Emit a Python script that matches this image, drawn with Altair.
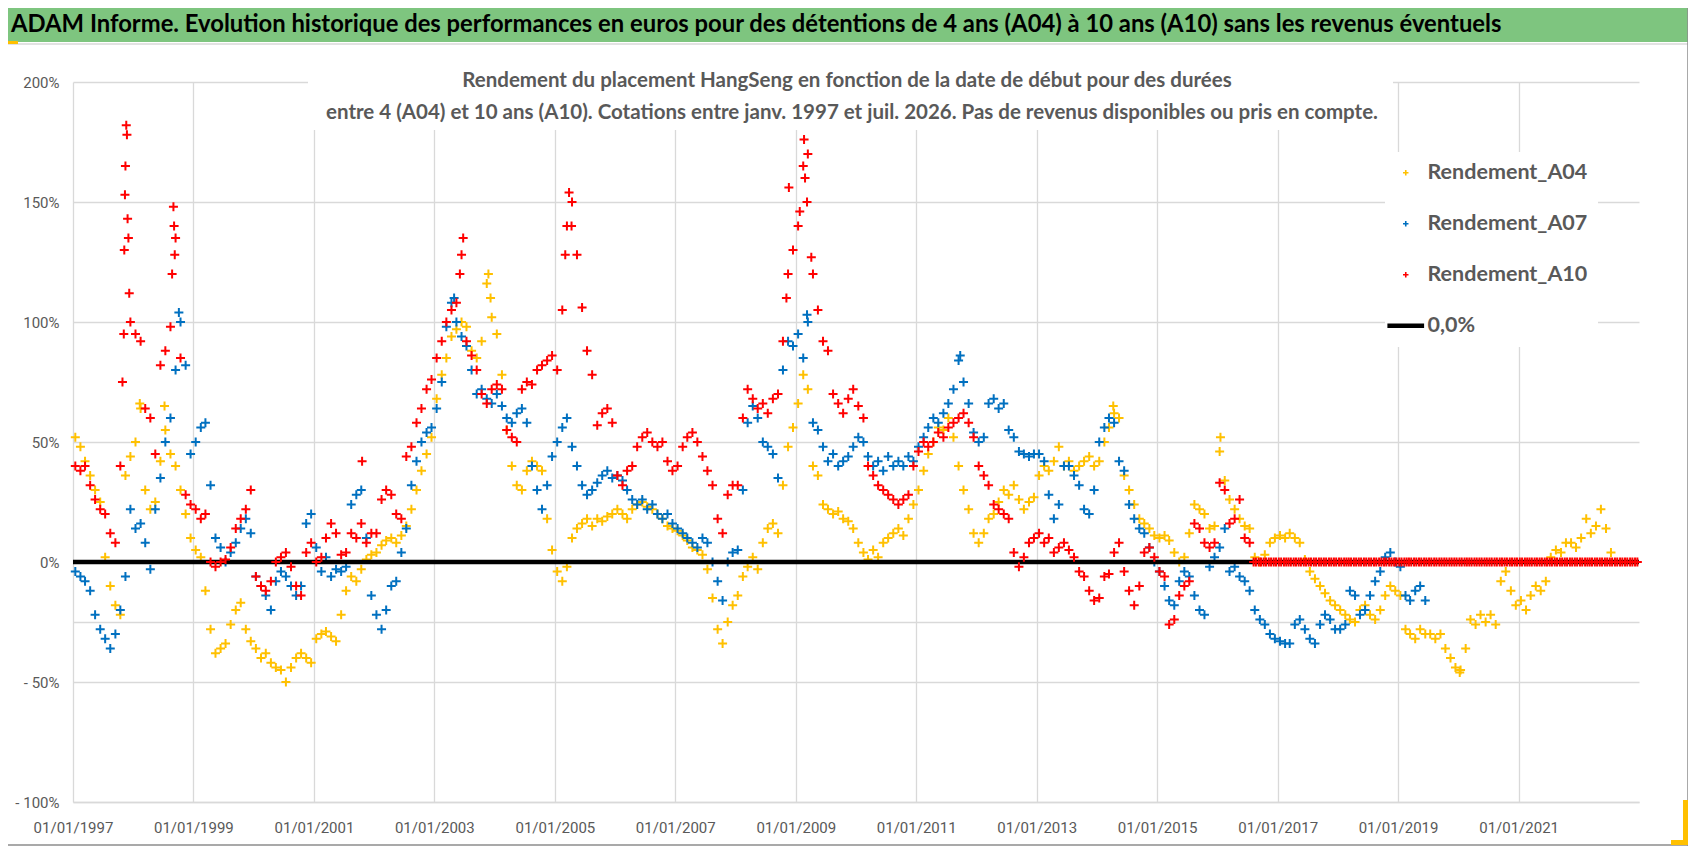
import altair as alt
import pandas as pd

TITLE = ("ADAM Informe. Evolution historique des performances en euros pour des détentions "
         "de 4 ans (A04) à 10 ans (A10) sans les revenus éventuels")
SUBTITLE = [
    "Rendement du placement HangSeng en fonction de la date de début pour des durées",
    "entre 4 (A04) et 10 ans (A10).  Cotations entre janv. 1997 et juil. 2026. "
    "Pas de revenus disponibles ou pris en compte.",
]
SERIES = ["Rendement_A04", "Rendement_A07", "Rendement_A10", "0,0%"]
COLORS = ["#FFC000", "#0070C0", "#FF0000", "#000000"]
X_TICK_YEARS = [1997, 1999, 2001, 2003, 2005, 2007, 2009, 2011, 2013, 2015, 2017, 2019, 2021]
Y_TICKS = [-100, -50, -25, 0, 50, 100, 150, 200]

# monthly readings (%), first value = January 1997
A04 = [
    52, 48, 42, 36, 30, 25, 2, -10, -18, -22, 36, 44,            # 1997
    50, 64, 30, 22, 25, 42, 55, 45, 40, 30, 20, 10,              # 1998
    5, 2, -12, -28, -38, -36, -34, -26, -20, -17, -28, -33,      # 1999
    -36, -40, -38, -42, -44, -45, -50, -44, -40, -38, -40, -42,  # 2000
    -32, -30, -29, -31, -33, -22, -12, -6, -8, -3, 1, 3,         # 2001
    4, 7, 9, 10, 8, 11, 15, 22, 30, 38, 45, 52,                  # 2002
    68, 78, 85, 94, 97, 100, 98, 88, 85, 92, 116, 102,           # 2003
    95, 78, 55, 40, 32, 30, 38, 42, 40, 38, 18, 5,               # 2004
    -4, -8, -2, 10, 14, 16, 18, 15, 18, 17, 19, 20,              # 2005
    22, 20, 18, 22, 24, 25, 23, 22, 20, 18, 15, 14,              # 2006
    13, 11, 9, 6, 5, 3, -3, -15, -28, -34, -25, -18,             # 2007
    -14, -6, -2, 2, -3, 8, 14, 16, 12, 32, 48, 56,               # 2008
    66, 78, 72, 40, 36, 24, 22, 20, 21, 18, 17, 14,              # 2009
    8, 4, 1, 5, 2, 8, 10, 12, 14, 11, 18, 24,                    # 2010
    30, 38, 45, 50, 56, 55, 60, 52, 40, 30, 22, 12,              # 2011
    8, 12, 18, 20, 25, 30, 28, 32, 26, 22, 25, 27,               # 2012
    36, 40, 38, 42, 48, 40, 42, 38, 40, 42, 44, 40,              # 2013
    42, 50, 56, 62, 60, 36, 30, 24, 18, 16, 14, 11,              # 2014
    10, 11, 9, 4, 0, 2, 12, 24, 22, 20, 14, 15,                  # 2015
    46, 34, 26, 22, 18, 15, 14, 2, 0, 3, 8, 10,                  # 2016
    11, 10, 12, 10, 8, 1, -4, -7, -10, -13, -16, -18,            # 2017
    -20, -22, -24, -25, -20, -18, -22, -24, -20, -14, -10, -12,  # 2018
    -14, -28, -30, -32, -28, -30, -30, -32, -30, -36, -40, -44,  # 2019
    -45, -36, -24, -26, -22, -25, -22, -26, -8, -4, -12, -18,    # 2020
    -16, -20, -14, -10, -12, -8, 2, 5, 4, 8, 8, 6,               # 2021
    10, 18, 12, 15, 22, 14, 4,                                   # 2022
]
A07 = [
    -4, -6, -8, -12, -22, -28, -32, -36, -30, -20, -6, 22,       # 1997
    14, 16, 8, -3, 22, 35, 50, 60, 80, 100, 82, 45,              # 1998
    50, 56, 58, 32, 10, 6, 0, 4, 8, 14, 18, 12,                  # 1999
    -6, -10, -14, -20, -8, -4, -6, -10, -14, -10, 16, 20,        # 2000
    6, -4, 2, -6, -3, -4, -2, 24, 28, 30, 10, -14,               # 2001
    -22, -28, -20, -10, -8, 4, 14, 32, 42, 50, 54, 56,           # 2002
    64, 75, 98, 108, 100, 94, 90, 80, 70, 72, 68, 66,            # 2003
    70, 65, 60, 58, 62, 64, 58, 40, 30, 22, 32, 44,              # 2004
    50, 56, 60, 48, 40, 32, 28, 30, 33, 36, 38, 35,              # 2005
    36, 34, 30, 26, 24, 26, 22, 24, 20, 18, 20, 16,              # 2006
    14, 12, 10, 8, 6, 10, 8, 0, -8, -16, 0, 4,                   # 2007
    5, 30, 58, 65, 60, 50, 48, 45, 35, 80, 92, 90,               # 2008
    95, 85, 100, 58, 55, 48, 42, 45, 40, 42, 44, 48,             # 2009
    52, 50, 44, 40, 42, 38, 44, 40, 42, 40, 44, 42,              # 2010
    48, 52, 56, 60, 58, 62, 66, 72, 84, 75, 66, 54,              # 2011
    50, 52, 66, 68, 64, 66, 55, 52, 46, 45, 44, 45,              # 2012
    45, 42, 28, 18, 24, 40, 40, 36, 32, 22, 20, 30,              # 2013
    50, 56, 60, 58, 42, 38, 24, 18, 14, 12, 6, 0,                # 2014
    -4, -10, -16, -18, -8, -4, -6, -14, -20, -22, -2, 2,         # 2015
    6, 14, -4, -2, -6, -8, -12, -20, -24, -26, -30, -32,         # 2016
    -33, -34, -34, -26, -24, -28, -32, -34, -26, -22, -24, -28,  # 2017
    -28, -26, -12, -14, -22, -20, -14, -8, -4, 2, 4, 0,          # 2018
    -2, -14, -16, -12, -10, -16,                                 # 2019
]
A10 = [
    40, 38, 40, 32, 26, 22, 20, 12, 8, 40, 165, 100,             # 1997
    95, 92, 64, 60, 45, 82, 88, 98, 135, 85, 28, 24,             # 1998
    22, 18, 20, 0, -2, 0, 1, 6, 14, 18, 22, 30,                  # 1999
    -6, -10, -12, -8, 0, 2, 4, -2, -10, -14, 4, 8,               # 2000
    0, 2, 10, 16, 12, 3, 4, 12, 10, 16, 8, 12,                   # 2001
    12, 26, 30, 28, 20, 18, 44, 48, 58, 64, 72, 76,              # 2002
    85, 92, 100, 105, 108, 128, 92, 86, 80, 70, 66, 72,          # 2003
    74, 72, 55, 52, 50, 72, 75, 74, 80, 82, 84, 86,              # 2004
    80, 105, 140, 150, 128, 106, 88, 78, 57, 62, 64, 58,         # 2005
    36, 32, 38, 40, 48, 52, 54, 50, 48, 50, 42, 38,              # 2006
    40, 48, 52, 54, 50, 44, 38, 32, 18, 12, 28, 32,              # 2007
    32, 60, 72, 68, 64, 66, 62, 68, 70, 92, 120, 130,            # 2008
    140, 165, 170, 120, 105, 92, 88, 70, 66, 62, 68, 72,         # 2009
    65, 60, 40, 36, 32, 30, 28, 26, 24, 26, 28, 40,              # 2010
    46, 50, 48, 50, 54, 52, 56, 58, 60, 62, 58, 52,              # 2011
    40, 36, 32, 24, 22, 20, 18, 4, -2, 2, 8, 10,                 # 2012
    12, 8, 10, 4, 6, 8, 5, 2, -4, -6, -12, -16,                  # 2013
    -15, -6, -5, 4, 8, -4, -12, -18, -10, 4, 6, 2,               # 2014
    -4, -6, -26, -24, -14, -10, -8, 16, 14, 8, 6, 8,             # 2015
    33, 30, 16, 18, 26, 10, 8,                                   # 2016
]
# from August 2016 the 10-year return has no data yet and sits on 0 % (the red band),
# read twice a month so the band stays solid
A10_FLAT = [0] * 154

# isolated points standing out of the monthly cloud
A04_EXTRA_DATES = ["1998-02-10", "1998-07-10", "2003-11-25", "2003-12-08",
                   "2014-04-10", "2016-01-20", "2020-01-10"]
A04_EXTRA = [66, 65, 120, 110, 65, 52, -46]
A07_EXTRA_DATES = ["1998-10-05", "2003-05-01", "2009-03-10", "2011-09-25"]
A07_EXTRA = [104, 110, 103, 86]
A10_EXTRA_DATES = ["1997-10-28", "1997-11-05", "1997-11-08", "1997-11-12", "1997-11-20",
                   "1997-11-24", "1997-11-28", "1997-12-03", "1997-12-08", "1998-08-25",
                   "1998-09-02", "1998-09-06", "1998-09-10", "2001-10-20", "2003-06-05",
                   "2003-06-25", "2005-03-05", "2005-03-28", "2005-04-12", "2008-11-05",
                   "2008-11-20", "2009-01-25", "2009-02-20", "2009-02-26", "2009-03-10",
                   "2009-04-05"]
A10_EXTRA = [75, 95, 130, 153, 182, 178, 143, 135, 112, 120, 148, 140, 128, 42, 120,
             135, 128, 154, 140, 110, 156, 146, 176, 160, 150, 127]

PLUS = "M-1,0L1,0M0,-1L0,1"
BAR = "M-6.7,-0.5L6.7,-0.5M-6.7,-0.17L6.7,-0.17M-6.7,0.17L6.7,0.17M-6.7,0.5L6.7,0.5"
GRID = "#D9D9D9"
GREY_TEXT = "#595959"


def series(values, first, serie, freq="MS", shift=14):
    when = pd.date_range(first, periods=len(values), freq=freq) + pd.Timedelta(days=shift)
    return pd.DataFrame({"date": when, "value": values, "serie": serie})


def extra(dates, values, serie):
    return pd.DataFrame({"date": pd.to_datetime(dates), "value": values, "serie": serie})


low = pd.concat([
    series(A04, "1997-01-01", SERIES[0]), extra(A04_EXTRA_DATES, A04_EXTRA, SERIES[0]),
    series(A07, "1997-01-01", SERIES[1]), extra(A07_EXTRA_DATES, A07_EXTRA, SERIES[1]),
])
high = pd.concat([
    series(A10, "1997-01-01", SERIES[2]), extra(A10_EXTRA_DATES, A10_EXTRA, SERIES[2]),
    series(A10_FLAT, "2016-08-01", SERIES[2], freq="SMS", shift=7),
])
one = pd.DataFrame({"n": [0]})

x_enc = alt.X(
    "date:T", title=None,
    scale=alt.Scale(domain=[alt.DateTime(year=1997, month=1, date=1),
                            alt.DateTime(year=2023, month=1, date=1)]),
    axis=alt.Axis(values=[alt.DateTime(year=y, month=1, date=1) for y in X_TICK_YEARS],
                  format="%d/%m/%Y", labelFlush=False, ticks=False, labelPadding=18,
                  domainColor=GRID, domainWidth=1.5),
)
y_enc = alt.Y(
    "value:Q", title=None,
    scale=alt.Scale(domain=[-100, 200], nice=False),
    axis=alt.Axis(values=Y_TICKS, ticks=False, domain=False, labelPadding=14,
                  labelExpr="datum.value == -25 ? '' : (datum.value < 0 ? '- ' + "
                            "abs(datum.value) + '%' : datum.value + '%')"),
)
legend = alt.Legend(title=None, orient="none", legendX=1312, legendY=70, direction="vertical",
                    labelFont="Lato", labelFontSize=21.5, labelFontWeight="bold",
                    labelColor=GREY_TEXT, labelOffset=11, symbolSize=30, symbolStrokeWidth=1.6,
                    symbolOpacity=1, rowPadding=28, padding=10, fillColor="white", zindex=1)
color_enc = alt.Color("serie:N", scale=alt.Scale(domain=SERIES, range=COLORS), legend=legend)
shape_enc = alt.Shape("serie:N", scale=alt.Scale(domain=SERIES, range=[PLUS, PLUS, PLUS, BAR]),
                      legend=legend)

title_box = alt.Chart(one).mark_rect(color="white").encode(
    x=alt.value(235), x2=alt.value(1320), y=alt.value(-18), y2=alt.value(48))
green_bar = alt.Chart(one).mark_rect(color="#7EC57F").encode(
    x=alt.value(-65), x2=alt.value(1616), y=alt.value(-74), y2=alt.value(-40))
bar_line = alt.Chart(one).mark_rule(color=GRID, strokeWidth=1.5).encode(
    x=alt.value(-65), x2=alt.value(1616), y=alt.value(-38))
bar_mark = alt.Chart(one).mark_rect(color="#FFC000").encode(
    x=alt.value(-65), x2=alt.value(-55), y=alt.value(-41), y2=alt.value(-38))

points = alt.Chart(low).mark_point(filled=False, size=81, strokeWidth=2, opacity=1).encode(
    x=x_enc, y=y_enc, color=color_enc, shape=shape_enc)
zero = alt.Chart(pd.DataFrame({"value": [0]})).mark_rule(color="black", strokeWidth=4.5).encode(
    y=y_enc)
points_a10 = alt.Chart(high).mark_point(filled=False, size=81, strokeWidth=2, opacity=1).encode(
    x=x_enc, y=y_enc, color=color_enc, shape=shape_enc)

sub1 = alt.Chart(one).mark_text(text=SUBTITLE[0], font="Lato", fontSize=20.5, fontWeight="bold",
                                color=GREY_TEXT, align="center", baseline="middle").encode(
    x=alt.value(774), y=alt.value(-1))
sub2 = alt.Chart(one).mark_text(text=SUBTITLE[1], font="Lato", fontSize=20.5, fontWeight="bold",
                                color=GREY_TEXT, align="center", baseline="middle").encode(
    x=alt.value(779), y=alt.value(31))
head = alt.Chart(one).mark_text(text=TITLE, font="Lato", fontSize=23.8, fontWeight="bold",
                                color="black", align="left", baseline="middle").encode(
    x=alt.value(-62), y=alt.value(-57))

right_border = alt.Chart(one).mark_rule(color="#8C8C8C", strokeWidth=1.5).encode(
    x=alt.value(1615), y=alt.value(-74), y2=alt.value(764))
bottom_border = alt.Chart(one).mark_rule(color="#8C8C8C", strokeWidth=1.5).encode(
    x=alt.value(-65), x2=alt.value(1615), y=alt.value(763))
corner_v = alt.Chart(one).mark_rect(color="#FFC000").encode(
    x=alt.value(1610), x2=alt.value(1615), y=alt.value(718), y2=alt.value(763))
corner_h = alt.Chart(one).mark_rect(color="#FFC000").encode(
    x=alt.value(1598), x2=alt.value(1615), y=alt.value(758), y2=alt.value(763))

chart = alt.layer(
    title_box, green_bar, bar_line, bar_mark, points, zero, points_a10,
    sub1, sub2, head, right_border, bottom_border, corner_v, corner_h,
).properties(
    width=1566, height=720,
    autosize=alt.AutoSizeParams(type="none"),
    padding={"left": 65, "top": 74, "right": 49, "bottom": 44},
    background="white",
).configure_view(stroke=None).configure_axis(
    grid=True, gridColor=GRID, gridWidth=1.3,
    labelFont="Roboto", labelFontSize=15, labelColor=GREY_TEXT,
)

chart.save("out.html", embed_options={"renderer": "svg", "actions": False})
